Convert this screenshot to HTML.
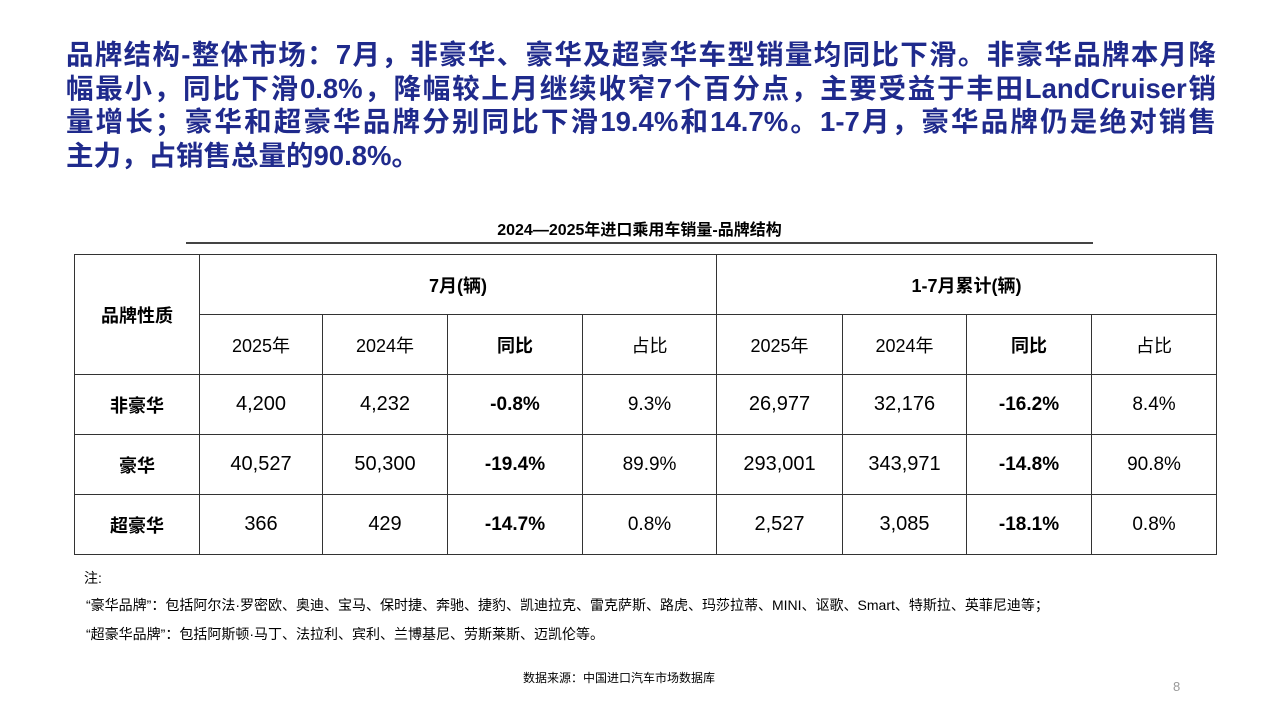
<!DOCTYPE html>
<html><head><meta charset="utf-8"><style>
body{margin:0;width:1280px;height:720px;background:#fff;position:relative;overflow:hidden;font-family:"Liberation Sans","Noto Sans CJK SC",sans-serif;color:#000}
.t{position:absolute;left:66px;top:38px;width:1150px;font-size:27.5px;font-weight:bold;color:#1f2a8c;line-height:33.5px}
.t div{white-space:nowrap;height:33.5px}
.j{text-align:justify;text-align-last:justify;white-space:normal!important}
.cap{position:absolute;left:186px;width:907px;top:216px;text-align:center;font-size:16px;font-weight:bold}
.ul{position:absolute;left:186px;top:242px;width:907px;height:2px;background:#444}
table{position:absolute;left:74px;top:254px;border-collapse:collapse;table-layout:fixed}
td{border:1px solid #333;text-align:center;height:59px;padding:0;font-size:20px}
.s{font-size:18px}
.p{font-size:19px}
.b{font-weight:bold}
.n{position:absolute;font-size:14px}
</style></head><body>
<div class="t">
<div class="j">品牌结构-整体市场：7月，非豪华、豪华及超豪华车型销量均同比下滑。非豪华品牌本月降</div>
<div class="j">幅最小，同比下滑0.8%，降幅较上月继续收窄7个百分点，主要受益于丰田LandCruiser销</div>
<div class="j">量增长；豪华和超豪华品牌分别同比下滑19.4%和14.7%。1-7月，豪华品牌仍是绝对销售</div>
<div>主力，占销售总量的90.8%。</div>
</div>
<div class="cap">2024—2025年进口乘用车销量-品牌结构</div>
<div class="ul"></div>
<table>
<colgroup><col style="width:125px"><col style="width:123px"><col style="width:125px"><col style="width:135px"><col style="width:134px"><col style="width:126px"><col style="width:124px"><col style="width:125px"><col style="width:125px"></colgroup>
<tr><td rowspan="2" class="b s">品牌性质</td><td colspan="4" class="b s">7月(辆)</td><td colspan="4" class="b s">1-7月累计(辆)</td></tr>
<tr><td class="s">2025年</td><td class="s">2024年</td><td class="b s">同比</td><td class="s">占比</td><td class="s">2025年</td><td class="s">2024年</td><td class="b s">同比</td><td class="s">占比</td></tr>
<tr><td class="b s">非豪华</td><td>4,200</td><td>4,232</td><td class="b p">-0.8%</td><td class="p">9.3%</td><td>26,977</td><td>32,176</td><td class="b p">-16.2%</td><td class="p">8.4%</td></tr>
<tr><td class="b s">豪华</td><td>40,527</td><td>50,300</td><td class="b p">-19.4%</td><td class="p">89.9%</td><td>293,001</td><td>343,971</td><td class="b p">-14.8%</td><td class="p">90.8%</td></tr>
<tr><td class="b s">超豪华</td><td>366</td><td>429</td><td class="b p">-14.7%</td><td class="p">0.8%</td><td>2,527</td><td>3,085</td><td class="b p">-18.1%</td><td class="p">0.8%</td></tr>
</table>
<div class="n" style="left:84px;top:568px">注:</div>
<div class="n" style="left:86px;top:595px">“豪华品牌”：包括阿尔法·罗密欧、奥迪、宝马、保时捷、奔驰、捷豹、凯迪拉克、雷克萨斯、路虎、玛莎拉蒂、MINI、讴歌、Smart、特斯拉、英菲尼迪等；</div>
<div class="n" style="left:86px;top:624px">“超豪华品牌”：包括阿斯顿·马丁、法拉利、宾利、兰博基尼、劳斯莱斯、迈凯伦等。</div>
<div class="n" style="left:523px;top:669px;font-size:12px">数据来源：中国进口汽车市场数据库</div>
<div class="n" style="left:1173px;top:679px;font-size:13px;color:#999">8</div>
</body></html>
